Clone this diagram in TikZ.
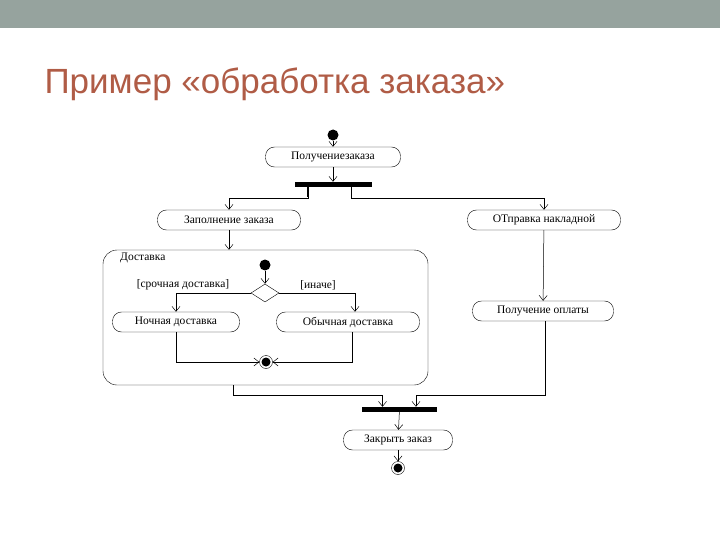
\documentclass[tikz,border=0pt]{standalone}
\usepackage{fontspec}
\setmainfont{Liberation Serif}
\newfontfamily\titlefont{Liberation Sans}
\usetikzlibrary{shapes.geometric,arrows.meta}
\definecolor{band}{RGB}{150,163,158}
\definecolor{titlec}{RGB}{176,92,70}
\begin{document}
\begin{tikzpicture}[x=1pt,y=-1pt,
  act/.style={draw,rounded corners=9pt,minimum height=20pt,inner sep=2pt,font=\fontsize{11.5}{13}\selectfont},
  bar/.style={fill=black,inner sep=0pt,minimum height=5pt},
  arr/.style={-{Straight Barb[length=5pt,width=8pt]},line width=0.5pt},
  lbl/.style={font=\fontsize{11.5}{13}\selectfont,inner sep=1pt}]
\useasboundingbox (0,0) rectangle (720,540);
\fill[band] (0,0) rectangle (720,28);
\node[anchor=west,text=titlec,font=\titlefont\fontsize{35}{38}\selectfont] (title) at (41,84) {Пример «обработка заказа»};
% nodes
\node[fill=black,circle,minimum size=11pt,inner sep=0pt] (s) at (333,135) {};
\node[act,minimum width=135pt] (a1) at (333,157) {Получениезаказа};
\node[bar,minimum width=77pt] (f1) at (333,184.5) {};
\node[act,minimum width=143pt] (a2) at (229,220) {Заполнение заказа};
\node[act,minimum width=153pt] (a3) at (544,220) {ОТправка накладной};
\node[draw,rounded corners=14pt,minimum width=325pt,minimum height=135pt,inner sep=0pt] (d) at (265.5,317.5) {};
\node[lbl,anchor=west] (dl) at (119,258) {Доставка};
\node[fill=black,circle,minimum size=11pt,inner sep=0pt] (s2) at (265,265) {};
\node[draw,diamond,minimum width=28pt,minimum height=18pt,inner sep=0pt] (dm) at (265,293) {};
\node[lbl] (g1) at (183,285) {[срочная доставка]};
\node[lbl] (g2) at (318,285) {[иначе]};
\node[act,minimum width=127pt] (n1) at (176,322) {Ночная доставка};
\node[act,minimum width=143pt] (n2) at (348,322) {Обычная доставка};
\node[draw,circle,minimum size=13pt,inner sep=0pt] (e1) at (266,362) {};
\fill[black] (e1) circle (4.5pt);
\node[act,minimum width=141pt] (a4) at (543,311) {Получение оплаты};
\node[bar,minimum width=75pt] (f2) at (399.5,409.5) {};
\node[act,minimum width=109pt] (a5) at (398,440) {Закрыть заказ};
\node[draw,circle,minimum size=13pt,inner sep=0pt] (e2) at (398,468) {};
\fill[black] (e2) circle (4.5pt);
\coordinate (jl) at (233,395);
\coordinate (jr) at (416,395);
% edges
\draw[arr] (s) -- (a1);
\draw[arr] (a1) -- (f1);
\draw[line width=2pt] ([xshift=-25pt]f1.south) -- ++(0,10);
\draw[arr] ([xshift=-25pt]f1.south) -- ++(0,11) -| (a2.north);
\draw[arr] ([xshift=18pt]f1.south) -- ++(0,11) -| (a3.north);
\draw[arr] (a2) -- (d.north -| a2);
\draw[arr] (s2) -- (dm);
\draw[arr] (dm.west) -| (n1.north);
\draw[arr] (dm.east) -| ([xshift=7pt]n2.north);
\draw[arr] (n1.south) |- (e1.west);
\draw[arr] ([xshift=4pt]n2.south) |- (e1.east);
\draw[arr] (a3) -- (a4);
\draw[arr] (d.south -| jl) |- ([xshift=-17pt]f2.north |- jl) -- ([xshift=-17pt]f2.north);
\draw[arr] ([xshift=2pt]a4.south) |- (jr) -- (jr |- f2.north);
\draw[arr] (f2) -- (a5);
\draw[arr] (a5) -- (e2);
\end{tikzpicture}
\end{document}
